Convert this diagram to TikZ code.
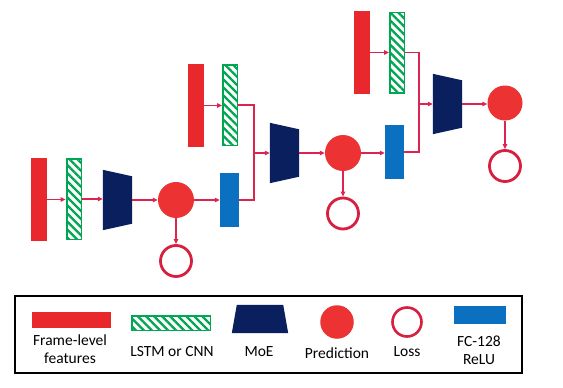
\documentclass[tikz,border=0pt]{standalone}
\usepackage{fontspec}
\setmainfont{Carlito}
\usetikzlibrary{arrows.meta,patterns.meta,calc}
\definecolor{framered}{HTML}{E8282C}
\definecolor{hatchgreen}{HTML}{00A651}
\definecolor{moeblue}{HTML}{0A1F5E}
\definecolor{predred}{HTML}{EC3233}
\definecolor{lossred}{HTML}{D81F3F}
\definecolor{fcblue}{HTML}{0B70C0}
\definecolor{linkred}{HTML}{DC2450}
\newcommand\drawmoe[1]{\fill[moeblue] (#1.north west) -- ($(#1.north east)+(0,6.5)$) -- ($(#1.south east)+(0,-6.5)$) -- (#1.south west) -- cycle;}
\begin{document}
\begin{tikzpicture}[x=1pt,y=-1pt,
 framebar/.style={fill=framered, minimum width=16pt, minimum height=83pt, inner sep=0, draw=none},
 lstmbar/.style={draw=hatchgreen, line width=1.5pt, pattern={Lines[angle=-45,distance=5.7pt,line width=2.3pt]}, pattern color=hatchgreen, minimum width=14.5pt, minimum height=80.5pt, inner sep=0},
 moebox/.style={minimum width=29pt, minimum height=60pt, inner sep=0},
 pred/.style={circle, fill=predred, minimum size=36pt, inner sep=0},
 lossc/.style={circle, draw=lossred, line width=2.8pt, fill=white, minimum size=31pt, inner sep=0},
 fcbar/.style={fill=fcblue, minimum width=19pt, minimum height=54pt, inner sep=0},
 link/.style={draw=linkred, line width=1.1pt},
 arr/.style={link, -{Triangle[length=5pt,width=4.5pt]}},
 lbl/.style={font=\fontsize{15.5}{18}\selectfont, inner sep=0, align=center}
]
\useasboundingbox[fill=white] (0,0) rectangle (563,388);

% row 1
\node[framebar] (f1) at (39,199.5) {};
\node[lstmbar] (l1) at (74,199) {};
\node[moebox] (m1) at (117.5,200) {};
\drawmoe{m1}
\node[pred] (p1) at (176,200) {};
\node[lossc] (o1) at (176,261) {};
\node[fcbar] (c1) at (229.5,200) {};

% row 2
\node[framebar] (f2) at (196,105.5) {};
\node[lstmbar] (l2) at (230,105) {};
\node[moebox] (m2) at (284.5,153) {};
\drawmoe{m2}
\node[pred] (p2) at (343,153) {};
\node[lossc] (o2) at (343,213.5) {};
\node[fcbar] (c2) at (394.5,152) {};
\coordinate (j2) at (254,153);

% row 3
\node[framebar] (f3) at (362,52.5) {};
\node[lstmbar] (l3) at (397,52.5) {};
\node[moebox] (m3) at (447.5,104) {};
\drawmoe{m3}
\node[pred, minimum size=35pt] (p3) at (505,103) {};
\node[lossc] (o3) at (505,166) {};
\coordinate (j3) at (419,104);

% connectors
\draw[arr] (f1.east) -- (f1.east -| l1.west);
\draw[arr] (l1.east) -- (l1.east -| m1.west);
\draw[arr] (m1.east) -- (p1.west);
\draw[arr] (p1.east) -- (c1.west);
\draw[arr] (p1.south) -- (o1.north);

\draw[arr] (f2.east) -- (f2.east -| l2.west);
\draw[link] (l2.east) -| (j2);
\draw[link] (c1.east) -| (j2);
\draw[arr] (j2) -- (m2.west);
\draw[arr] (m2.east) -- (p2.west);
\draw[arr] (p2.east) -- (p2.east -| c2.west);
\draw[arr] (p2.south) -- (o2.north);

\draw[arr] (f3.east) -- (f3.east -| l3.west);
\draw[link] (l3.east) -| (j3);
\draw[link] (c2.east) -| (j3);
\draw[arr] (j3) -- (m3.west);
\draw[arr] (m3.east) -- (m3.east -| p3.west);
\draw[arr] (p3.south) -- (o3.north);

% legend
\node[draw, line width=2pt, minimum width=507pt, minimum height=77pt, inner sep=0] (legend) at (268.5,334.5) {};
\node[fill=framered, minimum width=79pt, minimum height=16pt, inner sep=0] (kf) at (71.5,320) {};
\node[lbl] (tf) at (70,349) {Frame-level\\features};
\node[lstmbar, minimum width=78.5pt, minimum height=14.5pt] (kl) at (171,323) {};
\node[lbl] (tl) at (172,352) {LSTM or CNN};
\node[minimum width=56pt, minimum height=28pt, inner sep=0] (km) at (260,319) {};
\fill[moeblue] (km.south west) -- (km.south east) -- ($(km.north east)+(-5,0)$) -- ($(km.north west)+(5,0)$) -- cycle;
\node[lbl] (tm) at (259,352) {MoE};
\node[pred, minimum size=33.5pt] (kp) at (337,322) {};
\node[lbl] (tp) at (337,353) {Prediction};
\node[lossc, minimum size=29pt, line width=2.6pt] (ko) at (407,322) {};
\node[lbl] (to) at (407,352) {Loss};
\node[fcbar, minimum width=52pt, minimum height=18pt] (kc) at (480,315) {};
\node[lbl] (tc) at (479,350) {FC-128\\ReLU};
\end{tikzpicture}
\end{document}
